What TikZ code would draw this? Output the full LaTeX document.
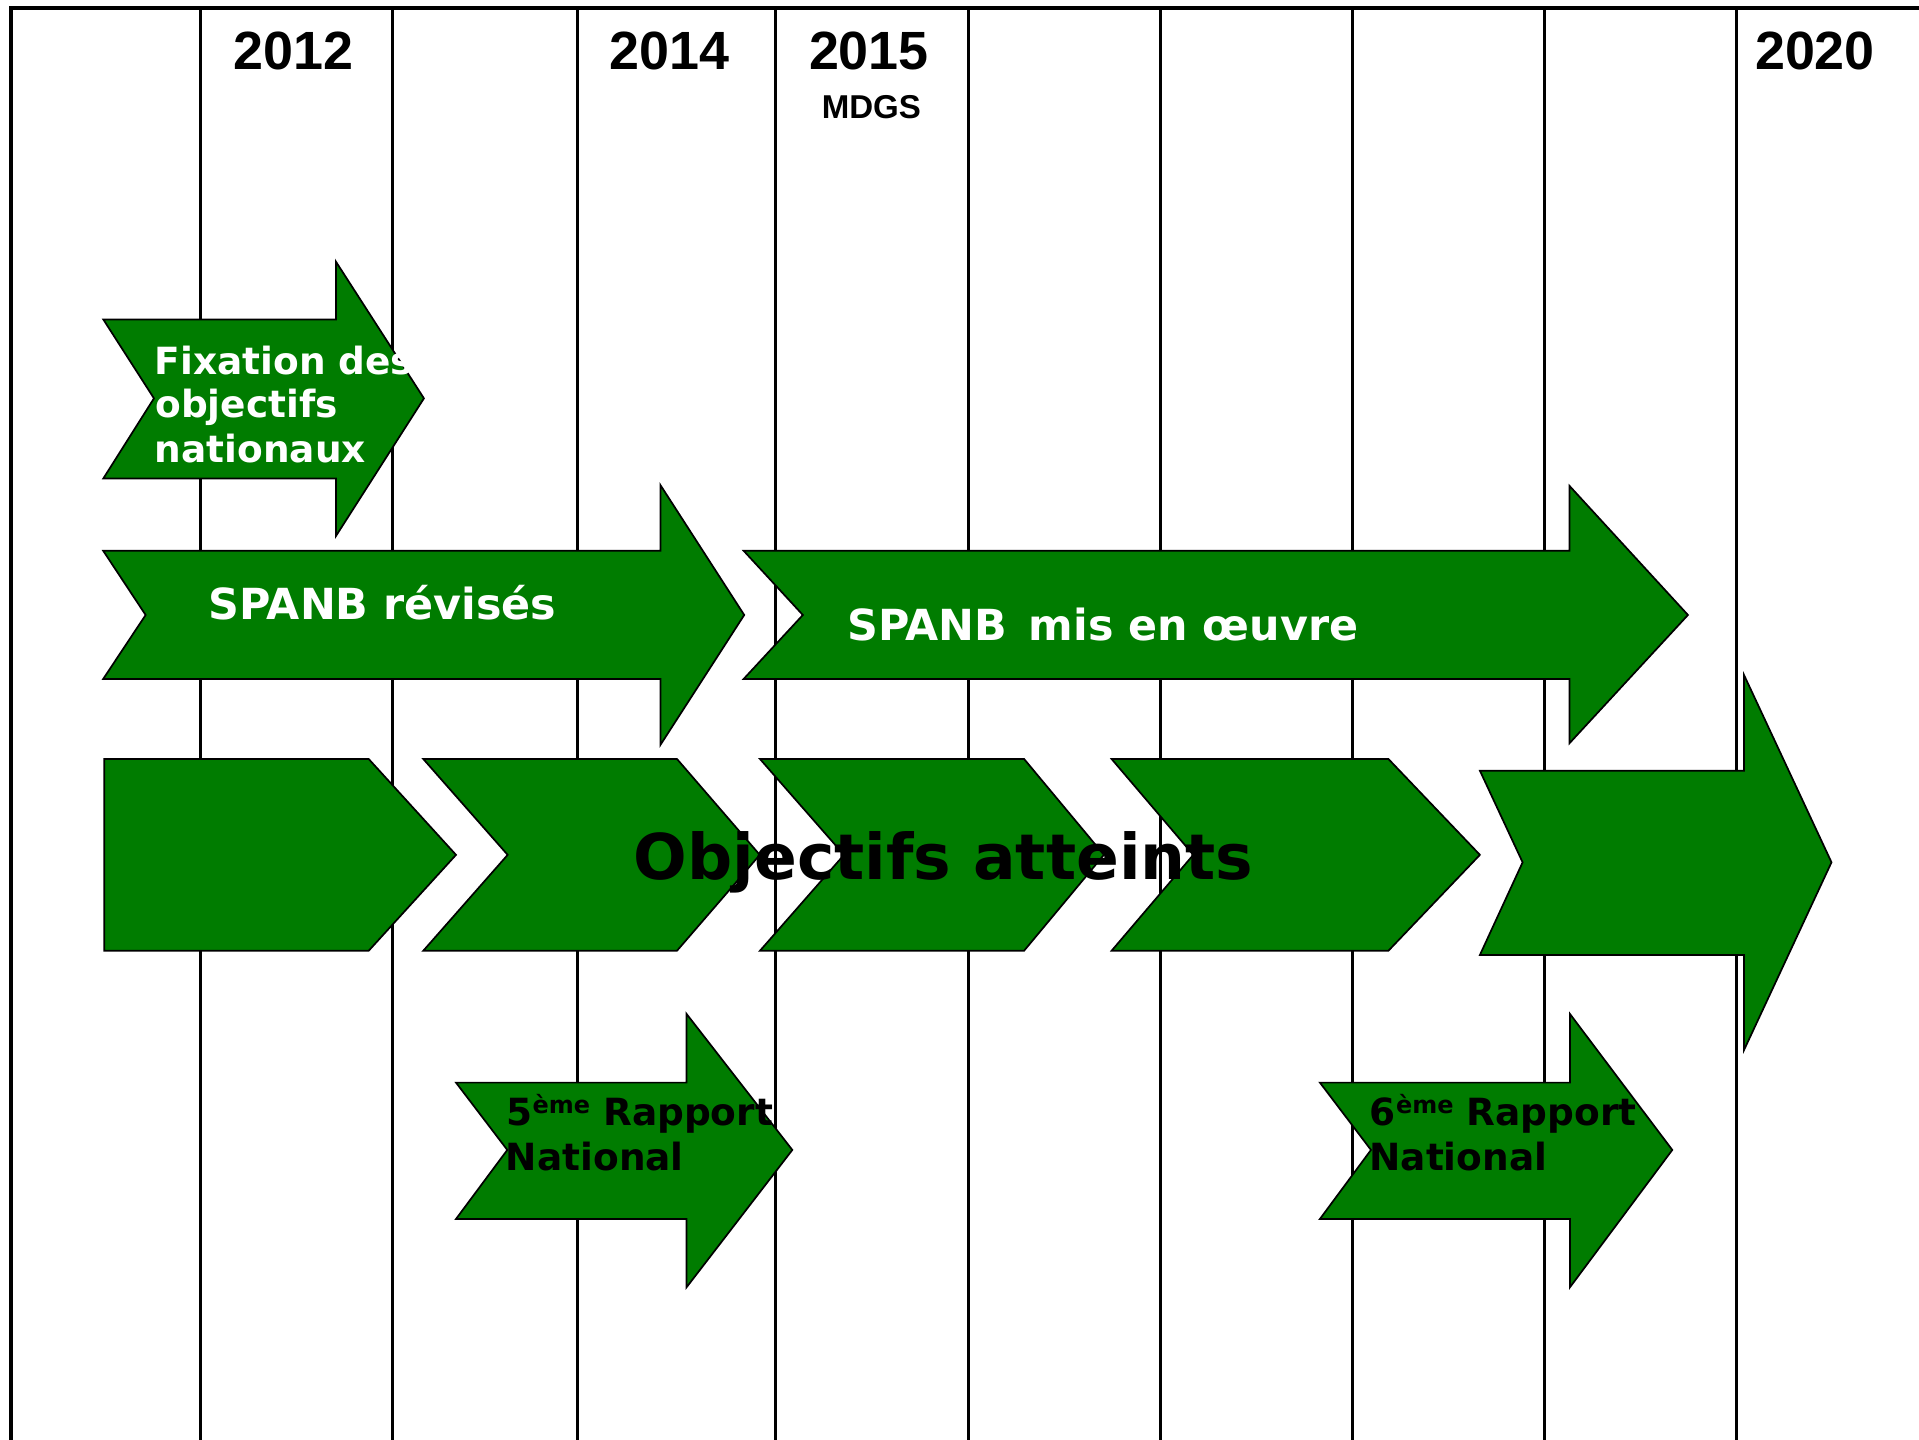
\documentclass[tikz,border=0pt]{standalone}
\usepackage{fontspec}
\setmainfont{DejaVu Sans}
\newfontfamily\yearfont{Liberation Sans}
\definecolor{arrowgreen}{RGB}{0,124,0}
\begin{document}
\begin{tikzpicture}[x=0.5pt,y=-0.5pt,
  gridline/.style={line width=1.2pt,line cap=butt},
  frameline/.style={line width=1.6pt},
  greenshape/.style={draw=black,line width=0.7pt,fill=arrowgreen,line join=miter},
  yearlabel/.style={font=\yearfont\bfseries\fontsize{22}{26}\selectfont,inner sep=0pt,anchor=base},
  smalllabel/.style={font=\yearfont\bfseries\fontsize{13.5}{16}\selectfont,inner sep=0pt,anchor=base},
  fixtext/.style={font=\bfseries\fontsize{15.3}{18}\selectfont,text=white,inner sep=0pt,anchor=base west},
  spanbtext/.style={font=\bfseries\fontsize{17.5}{20}\selectfont,text=white,inner sep=0pt,anchor=base west},
  rapporttext/.style={font=\bfseries\fontsize{15.3}{18}\selectfont,text=black,inner sep=0pt,anchor=base west},
  bigtext/.style={font=\bfseries\fontsize{25.8}{30}\selectfont,text=black,inner sep=0pt,anchor=base}
]
\useasboundingbox (0,0) rectangle (1568,1176.6);

% grid
\foreach \gx in {163.5,320.5,471.5,634,791,948,1105,1262,1419}
  \draw[gridline] (\gx,6) -- (\gx,1185);
\draw[frameline] (9,5) -- (9,1185);
\draw[frameline] (8.2,6.5) -- (1575,6.5);

% year labels
\node[yearlabel] (y2012) at (240,57) {2012};
\node[yearlabel] (y2014) at (547,57) {2014};
\node[yearlabel] (y2015) at (710,57) {2015};
\node[smalllabel] (mdgs) at (712,97) {MDGS};
\node[yearlabel] (y2020) at (1483,57) {2020};

% Fixation arrow
\draw[greenshape] (84.4,261) -- (274.5,261) -- (274.5,213.8) -- (346.4,325.5) -- (274.5,438) -- (274.5,391) -- (84.4,391) -- (125.8,325.5) -- cycle;
% SPANB revises
\draw[greenshape] (84.3,450) -- (539.6,450) -- (539.6,396.3) -- (608.1,502.5) -- (539.6,608.7) -- (539.6,554.8) -- (84.3,554.8) -- (119,502.5) -- cycle;
% SPANB mis en oeuvre
\draw[greenshape] (607.6,450) -- (1282.4,450) -- (1282.4,397) -- (1379.2,502.5) -- (1282.4,607.3) -- (1282.4,554.8) -- (607.6,554.8) -- (656,502.5) -- cycle;

% chevrons
\draw[greenshape] (85.1,620.2) -- (301.3,620.2) -- (372.6,698.5) -- (301.3,776.8) -- (85.1,776.8) -- cycle;
\draw[greenshape] (345.9,620.2) -- (553.2,620.2) -- (620.8,698.5) -- (553.2,776.8) -- (345.9,776.8) -- (414.8,698.5) -- cycle;
\draw[greenshape] (621,620.2) -- (836.8,620.2) -- (902,698.5) -- (836.8,776.8) -- (621,776.8) -- (689.6,698.5) -- cycle;
\draw[greenshape] (908.3,620.2) -- (1134.5,620.2) -- (1209.2,698.5) -- (1134.5,776.8) -- (908.3,776.8) -- (975,698.5) -- cycle;
\draw[greenshape] (1209.2,629.7) -- (1425,629.7) -- (1425,551.5) -- (1496.5,704.6) -- (1425,858) -- (1425,780.3) -- (1209.2,780.3) -- (1244.1,704.6) -- cycle;

% rapport arrows
\draw[greenshape] (372.6,884.6) -- (561,884.6) -- (561,828.5) -- (647.4,939.6) -- (561,1051.8) -- (561,996) -- (372.6,996) -- (414.5,939.6) -- cycle;
\draw[greenshape] (1078.5,884.6) -- (1282.8,884.6) -- (1282.8,828.5) -- (1366.4,939.6) -- (1282.8,1051.8) -- (1282.8,996) -- (1078.5,996) -- (1120.2,939.6) -- cycle;

% texts
\node[fixtext] (fix1) at (126,305.6) {Fixation des};
\node[fixtext] (fix2) at (126.5,341.3) {objectifs};
\node[fixtext] (fix3) at (126,377.5) {nationaux};
\node[spanbtext] (spanb1) at (170,506) {SPANB révisés};
\node[spanbtext] (spanb2) at (692,523) {SPANB\hspace{0.5em}mis en œuvre};
\node[bigtext] (objectifs) at (771,719) {Objectifs atteints};
\node[rapporttext] (r5a) at (413.5,920) {5\raisebox{5pt}{\fontsize{9.8}{10}\selectfont ème} Rapport};
\node[rapporttext] (r5b) at (413,956.5) {National};
\node[rapporttext] (r6a) at (1119,920) {6\raisebox{5pt}{\fontsize{9.8}{10}\selectfont ème} Rapport};
\node[rapporttext] (r6b) at (1118.5,956.5) {National};
\end{tikzpicture}
\end{document}
